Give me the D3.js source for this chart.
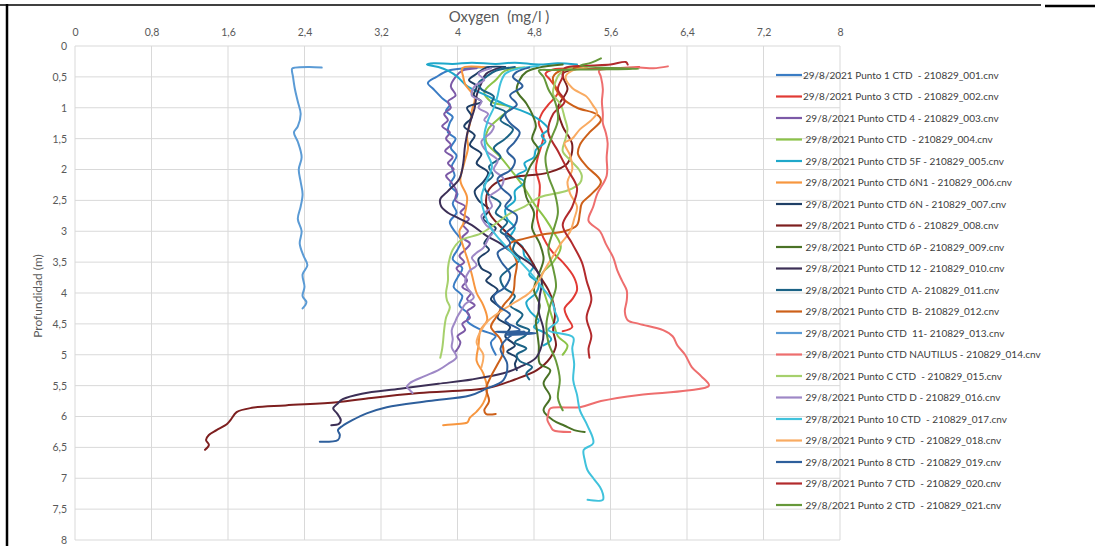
<!DOCTYPE html>
<html>
<head>
<meta charset="utf-8">
<script src="https://cdn.jsdelivr.net/npm/d3@7"></script>
<style>
  html, body { margin: 0; padding: 0; background: #ffffff; }
  svg { display: block; }
  text { font-family: Lato, "Open Sans", "Liberation Sans", sans-serif; white-space: pre; }
</style>
</head>
<body>
<svg id="chart" width="1095" height="546"></svg>
<script>
// Dissolved oxygen profiles, CTD casts of 29/8/2021. Each point is [depth (m), oxygen (mg/l)].
const seriesNames = [
  "29/8/2021 Punto 1 CTD  - 210829_001.cnv",
  "29/8/2021 Punto 3 CTD  - 210829_002.cnv",
  " 29/8/2021 Punto CTD 4 - 210829_003.cnv",
  " 29/8/2021 Punto CTD  - 210829_004.cnv",
  " 29/8/2021 Punto CTD 5F - 210829_005.cnv",
  " 29/8/2021 Punto CTD 6N1 - 210829_006.cnv",
  " 29/8/2021 Punto CTD 6N - 210829_007.cnv",
  " 29/8/2021 Punto CTD 6 - 210829_008.cnv",
  " 29/8/2021 Punto CTD 6P - 210829_009.cnv",
  " 29/8/2021 Punto CTD 12 - 210829_010.cnv",
  " 29/8/2021 Punto CTD  A- 210829_011.cnv",
  " 29/8/2021 Punto CTD  B- 210829_012.cnv",
  " 29/8/2021 Punto CTD  11- 210829_013.cnv",
  " 29/8/2021 Punto CTD NAUTILUS - 210829_014.cnv",
  " 29/8/2021 Punto C CTD  - 210829_015.cnv",
  " 29/8/2021 Punto CTD D - 210829_016.cnv",
  " 29/8/2021 Punto 10 CTD  - 210829_017.cnv",
  " 29/8/2021 Punto 9 CTD  - 210829_018.cnv",
  " 29/8/2021 Punto 8 CTD  - 210829_019.cnv",
  " 29/8/2021 Punto 7 CTD  - 210829_020.cnv",
  " 29/8/2021 Punto 2 CTD  - 210829_021.cnv"
];

const cast01 = [[0.34,4.35],[0.36,4.1],[0.4,3.9],[0.5,3.78],[0.6,3.69],[0.7,3.75],[0.86,3.85],[0.95,3.92],[1.05,3.88],[1.15,3.95],[1.24,3.92],[1.4,3.9],[1.5,3.98],[1.65,3.93],[1.78,3.99],[1.95,3.94],[2.1,3.97],[2.25,3.92],[2.4,4.0],[2.55,3.95],[2.7,3.99],[2.85,3.92],[3.0,3.97],[3.15,4.04],[3.3,4.0],[3.45,3.95],[3.6,4.05],[3.75,4.0],[3.9,3.96],[4.05,4.05],[4.2,4.02],[4.35,4.12],[4.45,4.1],[4.6,4.25],[4.7,4.4],[4.8,4.35],[5.0,4.4]];
const cast02 = [[0.34,5.9],[0.36,5.7],[0.37,5.4],[0.38,5.0],[0.45,4.92],[0.55,4.97],[0.75,5.05],[0.95,4.95],[1.1,4.88],[1.25,4.85],[1.45,4.9],[1.6,4.88],[1.8,4.84],[2.0,4.82],[2.25,4.86],[2.5,4.85],[2.75,4.83],[3.0,4.87],[3.2,4.93],[3.35,5.0],[3.5,5.1],[3.75,5.22],[3.95,5.25],[4.1,5.2],[4.25,5.12],[4.4,5.15],[4.55,5.2],[4.62,5.1]];
const cast03 = [[0.36,4.2],[0.4,4.05],[0.5,3.98],[0.65,3.93],[0.8,3.98],[0.9,3.9],[1.0,3.93],[1.1,3.86],[1.2,3.9],[1.3,3.84],[1.4,3.92],[1.5,3.88],[1.6,3.93],[1.7,3.87],[1.8,3.95],[1.9,3.9],[2.0,3.96],[2.1,3.88],[2.2,3.93],[2.35,3.99],[2.5,3.98],[2.6,4.08],[2.7,4.03],[2.8,4.12],[2.9,4.06],[3.0,4.11],[3.1,4.05],[3.2,4.13],[3.3,4.08],[3.4,4.02],[3.5,4.07],[3.6,3.99],[3.7,4.05],[3.8,4.1],[3.9,4.05],[4.0,4.14],[4.1,4.1],[4.2,4.18],[4.3,4.1],[4.4,4.13],[4.5,4.05],[4.6,4.08],[4.7,4.0],[4.8,4.03],[4.95,3.98]];
const cast04 = [[0.35,4.7],[0.4,4.5],[0.55,4.4],[0.75,4.28],[0.9,4.35],[1.0,4.55],[1.15,4.45],[1.35,4.32],[1.55,4.3],[1.8,4.45],[2.05,4.58],[2.3,4.7],[2.55,4.8],[2.8,4.92],[3.0,5.0],[3.25,5.08],[3.5,5.0],[3.7,4.88],[3.95,4.9],[4.2,4.95],[4.45,5.0],[4.7,5.05],[4.85,5.15],[5.0,5.1]];
const cast05 = [[0.3,5.25],[0.28,5.05],[0.3,4.85],[0.27,4.6],[0.29,4.4],[0.27,4.15],[0.29,3.95],[0.28,3.75],[0.3,3.68],[0.34,3.8],[0.4,3.9],[0.5,4.0],[0.65,4.1],[0.8,4.3],[0.95,4.5],[1.1,4.75],[1.25,4.9],[1.35,4.95],[1.45,4.88],[1.55,4.92],[1.68,4.82],[1.8,4.8],[1.9,4.7],[2.0,4.72],[2.1,4.62],[2.2,4.7],[2.35,4.6],[2.5,4.6],[2.65,4.5],[2.8,4.52],[2.95,4.6],[3.1,4.55],[3.25,4.68],[3.4,4.7],[3.55,4.8],[3.7,4.75],[3.85,4.85],[4.0,4.82],[4.15,4.72],[4.3,4.76],[4.45,4.85],[4.55,4.8],[4.65,4.92],[4.75,4.98],[4.85,4.9]];
const cast06 = [[0.35,4.3],[0.36,4.05],[0.5,4.06],[0.62,4.08],[0.84,4.18],[1.05,4.15],[1.26,4.13],[1.45,4.1],[1.65,4.11],[1.9,4.07],[2.18,4.03],[2.45,4.1],[2.7,4.08],[2.88,4.06],[3.0,4.02],[3.2,4.05],[3.43,4.1],[3.7,4.15],[4.0,4.2],[4.2,4.27],[4.44,4.31],[4.6,4.24],[4.85,4.22],[5.1,4.2],[5.3,4.27],[5.57,4.31],[5.78,4.27],[5.92,4.2],[6.02,4.13],[6.1,4.1],[6.12,4.0],[6.14,3.85]];
const cast07 = [[0.34,4.5],[0.35,4.3],[0.45,4.2],[0.55,4.12],[0.65,4.2],[0.8,4.17],[0.9,4.25],[1.0,4.1],[1.15,4.15],[1.3,4.07],[1.45,4.18],[1.6,4.13],[1.75,4.25],[1.9,4.2],[2.05,4.32],[2.2,4.27],[2.35,4.18],[2.5,4.22],[2.65,4.33],[2.8,4.27],[2.95,4.4],[3.05,4.35],[3.2,4.28],[3.3,4.33],[3.45,4.22],[3.6,4.25],[3.7,4.35],[3.8,4.3],[3.95,4.42],[4.1,4.35],[4.25,4.45],[4.4,4.42],[4.55,4.55],[4.7,4.5],[4.85,4.6],[4.95,4.52],[5.05,4.62],[5.15,4.6],[5.25,4.62]];
const cast08 = [[0.36,5.3],[0.45,5.1],[0.7,5.15],[1.0,5.05],[1.3,5.1],[1.6,5.2],[1.9,5.15],[2.05,4.95],[2.12,4.6],[2.2,4.42],[2.35,4.32],[2.55,4.3],[2.75,4.35],[3.0,4.5],[3.3,4.7],[3.55,4.8],[3.75,4.87],[3.95,4.95],[4.15,5.0],[4.35,5.02],[4.6,5.0],[4.85,5.03],[5.05,4.97],[5.25,4.83],[5.4,4.6],[5.54,4.31],[5.62,3.6],[5.7,3.1],[5.77,2.74],[5.82,2.2],[5.86,1.85],[5.93,1.69],[6.05,1.63],[6.12,1.59],[6.22,1.48],[6.3,1.4],[6.38,1.37],[6.46,1.4],[6.54,1.36]];
const cast09 = [[0.3,5.1],[0.35,4.85],[0.42,4.72],[0.55,4.65],[0.72,4.62],[0.93,4.72],[1.1,4.78],[1.3,4.82],[1.5,4.78],[1.7,4.85],[1.95,4.76],[2.2,4.7],[2.45,4.72],[2.7,4.8],[2.95,4.78],[3.2,4.86],[3.45,4.9],[3.7,4.85],[3.95,4.8],[4.2,4.86],[4.45,4.82],[4.6,4.83],[4.85,4.85],[5.14,4.86],[5.25,4.97],[5.46,4.9],[5.69,4.97],[5.9,4.9],[6.06,5.0],[6.15,5.12],[6.22,5.22],[6.25,5.33]];
const cast10 = [[0.35,4.45],[0.45,4.3],[0.6,4.25],[0.8,4.2],[1.0,4.18],[1.3,4.12],[1.6,4.08],[1.9,4.06],[2.15,4.02],[2.35,3.9],[2.48,3.82],[2.6,3.83],[2.7,3.9],[2.78,4.0],[2.9,4.15],[3.07,4.3],[3.2,4.45],[3.32,4.55],[3.55,4.78],[3.8,4.88],[4.05,4.86],[4.3,4.85],[4.6,4.9],[4.85,4.88],[5.05,4.82],[5.2,4.65],[5.3,4.48],[5.4,4.15],[5.47,3.8],[5.55,3.4],[5.63,3.0],[5.72,2.8],[5.8,2.74],[5.87,2.7],[5.95,2.74],[6.06,2.78],[6.12,2.76],[6.14,2.68]];
const cast11 = [[0.34,4.6],[0.4,4.4],[0.5,4.3],[0.6,4.22],[0.7,4.25],[0.82,4.38],[0.95,4.35],[1.07,4.5],[1.2,4.45],[1.35,4.58],[1.5,4.5],[1.65,4.38],[1.8,4.45],[1.95,4.33],[2.1,4.37],[2.25,4.28],[2.4,4.32],[2.55,4.45],[2.7,4.4],[2.85,4.52],[3.0,4.45],[3.15,4.6],[3.3,4.58],[3.45,4.65],[3.6,4.55],[3.75,4.45],[3.9,4.48],[4.05,4.6],[4.2,4.55],[4.35,4.68],[4.5,4.62],[4.6,4.75],[4.7,4.7],[4.8,4.6],[4.9,4.72],[5.0,4.62],[5.1,4.65],[5.2,4.78],[5.3,4.72],[5.4,4.75]];
const cast12 = [[0.33,5.35],[0.38,5.1],[0.5,5.0],[0.7,5.03],[0.85,5.1],[1.0,5.25],[1.1,5.45],[1.2,5.5],[1.4,5.38],[1.6,5.28],[1.75,5.26],[1.95,5.35],[2.2,5.5],[2.4,5.4],[2.55,5.3],[2.7,5.28],[2.9,5.25],[3.0,5.12],[3.05,4.9],[3.12,4.7],[3.2,4.55],[3.3,4.56],[3.5,4.62],[3.75,4.6],[4.0,4.58],[4.2,4.48],[4.4,4.4],[4.55,4.35],[4.75,4.45],[4.95,4.48],[5.15,4.42],[5.35,4.35],[5.55,4.3],[5.75,4.33],[5.9,4.28],[5.96,4.3],[5.96,4.4]];
const cast13 = [[0.35,2.58],[0.34,2.45],[0.35,2.3],[0.37,2.27],[0.5,2.28],[0.7,2.3],[0.9,2.33],[1.1,2.36],[1.3,2.33],[1.4,2.29],[1.55,2.33],[1.8,2.37],[2.0,2.34],[2.2,2.36],[2.4,2.38],[2.6,2.36],[2.8,2.33],[3.0,2.37],[3.2,2.35],[3.4,2.39],[3.55,2.43],[3.7,2.38],[3.9,2.4],[4.05,2.38],[4.15,2.42],[4.25,2.38]];
const cast14 = [[0.33,6.2],[0.36,6.05],[0.35,5.9],[0.37,5.6],[0.4,5.48],[0.5,5.5],[0.7,5.52],[0.9,5.51],[1.1,5.52],[1.25,5.52],[1.4,5.55],[1.57,5.57],[1.8,5.56],[2.1,5.56],[2.4,5.46],[2.6,5.42],[2.83,5.37],[3.0,5.49],[3.2,5.55],[3.43,5.63],[3.63,5.67],[3.8,5.72],[3.96,5.77],[4.12,5.77],[4.3,5.75],[4.44,5.78],[4.5,5.9],[4.6,6.15],[4.7,6.25],[4.85,6.3],[5.0,6.38],[5.2,6.45],[5.35,6.55],[5.5,6.63],[5.58,6.4],[5.65,5.9],[5.75,5.5],[5.85,5.28],[5.87,4.97],[5.95,4.95],[6.06,4.94],[6.15,4.97],[6.22,5.0],[6.25,5.18]];
const cast15 = [[0.35,5.2],[0.45,5.07],[0.6,5.02],[0.78,5.0],[0.95,5.08],[1.16,5.12],[1.35,5.15],[1.5,5.13],[1.7,5.1],[1.85,5.18],[2.0,5.27],[2.1,5.3],[2.22,5.28],[2.34,5.15],[2.45,4.86],[2.6,4.7],[2.71,4.55],[2.9,4.38],[3.04,4.24],[3.15,4.03],[3.3,3.95],[3.43,3.92],[3.6,3.9],[3.8,3.9],[4.0,3.88],[4.12,3.89],[4.23,3.92],[4.4,3.88],[4.6,3.86],[4.77,3.85],[4.9,3.84],[5.05,3.82]];
const cast16 = [[0.36,4.35],[0.45,4.22],[0.55,4.28],[0.65,4.18],[0.8,4.15],[0.9,4.25],[1.0,4.22],[1.1,4.32],[1.2,4.28],[1.3,4.38],[1.4,4.35],[1.55,4.25],[1.7,4.3],[1.85,4.42],[2.0,4.38],[2.15,4.48],[2.3,4.45],[2.45,4.33],[2.6,4.36],[2.75,4.25],[2.9,4.3],[3.0,4.38],[3.1,4.33],[3.27,4.27],[3.35,4.2],[3.43,4.15],[3.55,4.2],[3.65,4.12],[3.8,4.08],[3.91,4.1],[4.07,4.17],[4.18,4.08],[4.28,4.04],[4.38,4.0],[4.45,3.98],[4.6,3.94],[4.75,3.95],[4.88,3.94],[5.04,3.99],[5.15,3.9],[5.25,3.8],[5.35,3.65],[5.46,3.5],[5.52,3.47],[5.57,3.5],[5.62,3.53]];
const cast17 = [[0.32,4.85],[0.38,4.6],[0.45,4.5],[0.6,4.45],[0.8,4.42],[1.0,4.38],[1.2,4.32],[1.45,4.28],[1.7,4.3],[1.95,4.36],[2.2,4.3],[2.45,4.25],[2.7,4.28],[2.95,4.35],[3.15,4.45],[3.4,4.6],[3.65,4.75],[3.9,4.88],[4.1,4.98],[4.3,5.02],[4.45,5.05],[4.6,4.95],[4.72,5.21],[4.9,5.2],[5.15,5.22],[5.41,5.21],[5.65,5.25],[5.9,5.28],[6.15,5.36],[6.43,5.42],[6.54,5.32],[6.7,5.33],[6.87,5.36],[7.0,5.42],[7.14,5.49],[7.25,5.52],[7.35,5.52],[7.35,5.36]];
const cast18 = [[0.35,5.35],[0.4,5.2],[0.5,5.13],[0.68,5.2],[0.82,5.35],[0.97,5.42],[1.08,5.46],[1.2,5.4],[1.35,5.28],[1.5,5.2],[1.57,5.12],[1.78,5.18],[2.0,5.2],[2.2,5.15],[2.4,5.18],[2.6,5.25],[2.8,5.22],[3.0,5.18],[3.2,5.08],[3.4,5.0],[3.6,4.92],[3.8,4.85],[4.0,4.75],[4.15,4.6],[4.3,4.45],[4.45,4.32],[4.6,4.25],[4.8,4.2],[5.0,4.27],[5.2,4.25]];
const cast19 = [[0.35,4.75],[0.42,4.62],[0.5,4.58],[0.65,4.68],[0.8,4.55],[0.95,4.62],[1.1,4.5],[1.25,4.55],[1.4,4.65],[1.55,4.6],[1.7,4.52],[1.85,4.6],[2.0,4.56],[2.15,4.42],[2.3,4.46],[2.45,4.56],[2.6,4.5],[2.75,4.62],[2.9,4.6],[3.05,4.5],[3.2,4.55],[3.35,4.42],[3.5,4.46],[3.7,4.55],[3.9,4.5],[4.05,4.38],[4.2,4.42],[4.35,4.55],[4.45,4.5],[4.6,4.65],[4.63,4.4],[4.65,4.82],[4.68,4.5],[4.62,4.7],[4.7,4.55],[4.9,4.45],[5.15,4.52],[5.41,4.48],[5.55,4.3],[5.66,4.13],[5.75,3.7],[5.85,3.26],[5.95,3.05],[6.06,2.9],[6.15,2.8],[6.22,2.75],[6.3,2.77],[6.38,2.75],[6.41,2.56]];
const cast20 = [[0.3,5.78],[0.26,5.76],[0.3,5.6],[0.32,5.35],[0.36,5.12],[0.5,5.1],[0.7,5.05],[0.9,5.12],[1.1,5.0],[1.4,4.95],[1.7,5.05],[2.0,5.15],[2.3,5.25],[2.6,5.2],[2.9,5.1],[3.2,5.2],[3.5,5.3],[3.8,5.35],[4.1,5.4],[4.4,5.35],[4.7,5.4],[4.9,5.37],[5.05,5.38]];
const cast21 = [[0.2,5.5],[0.27,5.4],[0.32,5.28],[0.37,5.9],[0.38,5.4],[0.39,5.0],[0.4,4.85],[0.5,4.9],[0.7,4.95],[0.9,5.02],[1.2,5.05],[1.5,4.98],[1.8,4.92],[2.1,4.95],[2.4,5.02],[2.7,5.05],[3.0,5.0],[3.3,4.95],[3.6,5.0],[3.9,5.03],[4.2,4.97],[4.5,4.93],[4.8,4.95],[5.1,5.03],[5.4,5.07],[5.7,5.05],[5.9,5.1]];

const casts = [cast01, cast02, cast03, cast04, cast05, cast06, cast07, cast08, cast09, cast10,
               cast11, cast12, cast13, cast14, cast15, cast16, cast17, cast18, cast19, cast20, cast21];

const seriesColors = ["#3a7cc4", "#e13a34", "#7c5aa7", "#8cc348", "#1fa8ca", "#f7963f", "#1f3f66",
                      "#7d1f1f", "#4a7226", "#3c2f56", "#1b6386", "#cd6019", "#5b9bd5", "#ee6e6e",
                      "#a6d06c", "#9e88c6", "#40c2dc", "#f9ab62", "#2e5f9c", "#b22a2c", "#66983a"];

const oxygenTicks = [0, 0.8, 1.6, 2.4, 3.2, 4, 4.8, 5.6, 6.4, 7.2, 8];
const depthTicks = [0, 0.5, 1, 1.5, 2, 2.5, 3, 3.5, 4, 4.5, 5, 5.5, 6, 6.5, 7, 7.5, 8];

const svg = d3.select("#chart");
const plot = { left: 75, right: 840, top: 46, bottom: 540 };

const x = d3.scaleLinear().domain([0, 8]).range([plot.left, plot.right]);
const y = d3.scaleLinear().domain([0, 8]).range([plot.top, plot.bottom]);
const fmt = v => String(v).replace(".", ",");

// Frame lines around the sheet area
svg.append("line").attr("x1", 0).attr("x2", 1041).attr("y1", 5).attr("y2", 5)
  .attr("stroke", "#000").attr("stroke-width", 1.5);
svg.append("line").attr("x1", 1045).attr("x2", 1095).attr("y1", 6).attr("y2", 6)
  .attr("stroke", "#000").attr("stroke-width", 2.5);
svg.append("line").attr("x1", 7).attr("x2", 7).attr("y1", 4).attr("y2", 546)
  .attr("stroke", "#000").attr("stroke-width", 2.5);

// Gridlines
const grid = svg.append("g");
grid.selectAll("line.v").data(oxygenTicks).join("line")
  .attr("x1", d => x(d)).attr("x2", d => x(d))
  .attr("y1", plot.top).attr("y2", plot.bottom)
  .attr("stroke", "#d9d9d9").attr("stroke-width", 1);
grid.selectAll("line.h").data(depthTicks).join("line")
  .attr("x1", plot.left).attr("x2", plot.right)
  .attr("y1", d => y(d)).attr("y2", d => y(d))
  .attr("stroke", "#d9d9d9").attr("stroke-width", 1);

// Oxygen axis on top
const xAxis = d3.axisTop(x).tickValues(oxygenTicks).tickFormat(fmt).tickSize(0).tickPadding(10);
const gx = svg.append("g").attr("transform", `translate(0,${plot.top})`).call(xAxis);
gx.select(".domain").remove();
gx.selectAll("text").attr("fill", "#595959").style("font-size", "10.5px")
  .style("font-family", "Lato, 'Open Sans', sans-serif");

// Depth axis on the left
const yAxis = d3.axisLeft(y).tickValues(depthTicks).tickFormat(fmt).tickSize(0).tickPadding(8);
const gy = svg.append("g").attr("transform", `translate(${plot.left},0)`).call(yAxis);
gy.select(".domain").remove();
gy.selectAll("text").attr("fill", "#595959").style("font-size", "10.5px")
  .style("font-family", "Lato, 'Open Sans', sans-serif");

// Axis titles
svg.append("text").attr("x", 499).attr("y", 22).attr("text-anchor", "middle")
  .attr("fill", "#595959").style("font-size", "15px").text("Oxygen  (mg/l )");
svg.append("text").attr("transform", "translate(42,296) rotate(-90)").attr("text-anchor", "middle")
  .attr("fill", "#595959").style("font-size", "12px").text("Profundidad (m)");

// Profiles, smoothed through the sampled points
const line = d3.line().x(p => x(p[1])).y(p => y(p[0])).curve(d3.curveCatmullRom.alpha(0.5));
svg.append("g").selectAll("path").data(casts).join("path")
  .attr("d", line)
  .attr("fill", "none")
  .attr("stroke", (d, i) => seriesColors[i])
  .attr("stroke-width", 2)
  .attr("stroke-linejoin", "round")
  .attr("stroke-linecap", "round");

// Legend
const legend = svg.append("g");
const item = legend.selectAll("g").data(seriesNames).join("g")
  .attr("transform", (d, i) => `translate(776,${75 + i * 21.5})`);
item.append("line").attr("x1", 0).attr("x2", 26).attr("y1", 0).attr("y2", 0)
  .attr("stroke", (d, i) => seriesColors[i]).attr("stroke-width", 2.2);
item.append("text").attr("x", 27).attr("y", 3.8)
  .attr("fill", "#404040").style("font-size", "10px")
  .text(d => d);
</script>
</body>
</html>
